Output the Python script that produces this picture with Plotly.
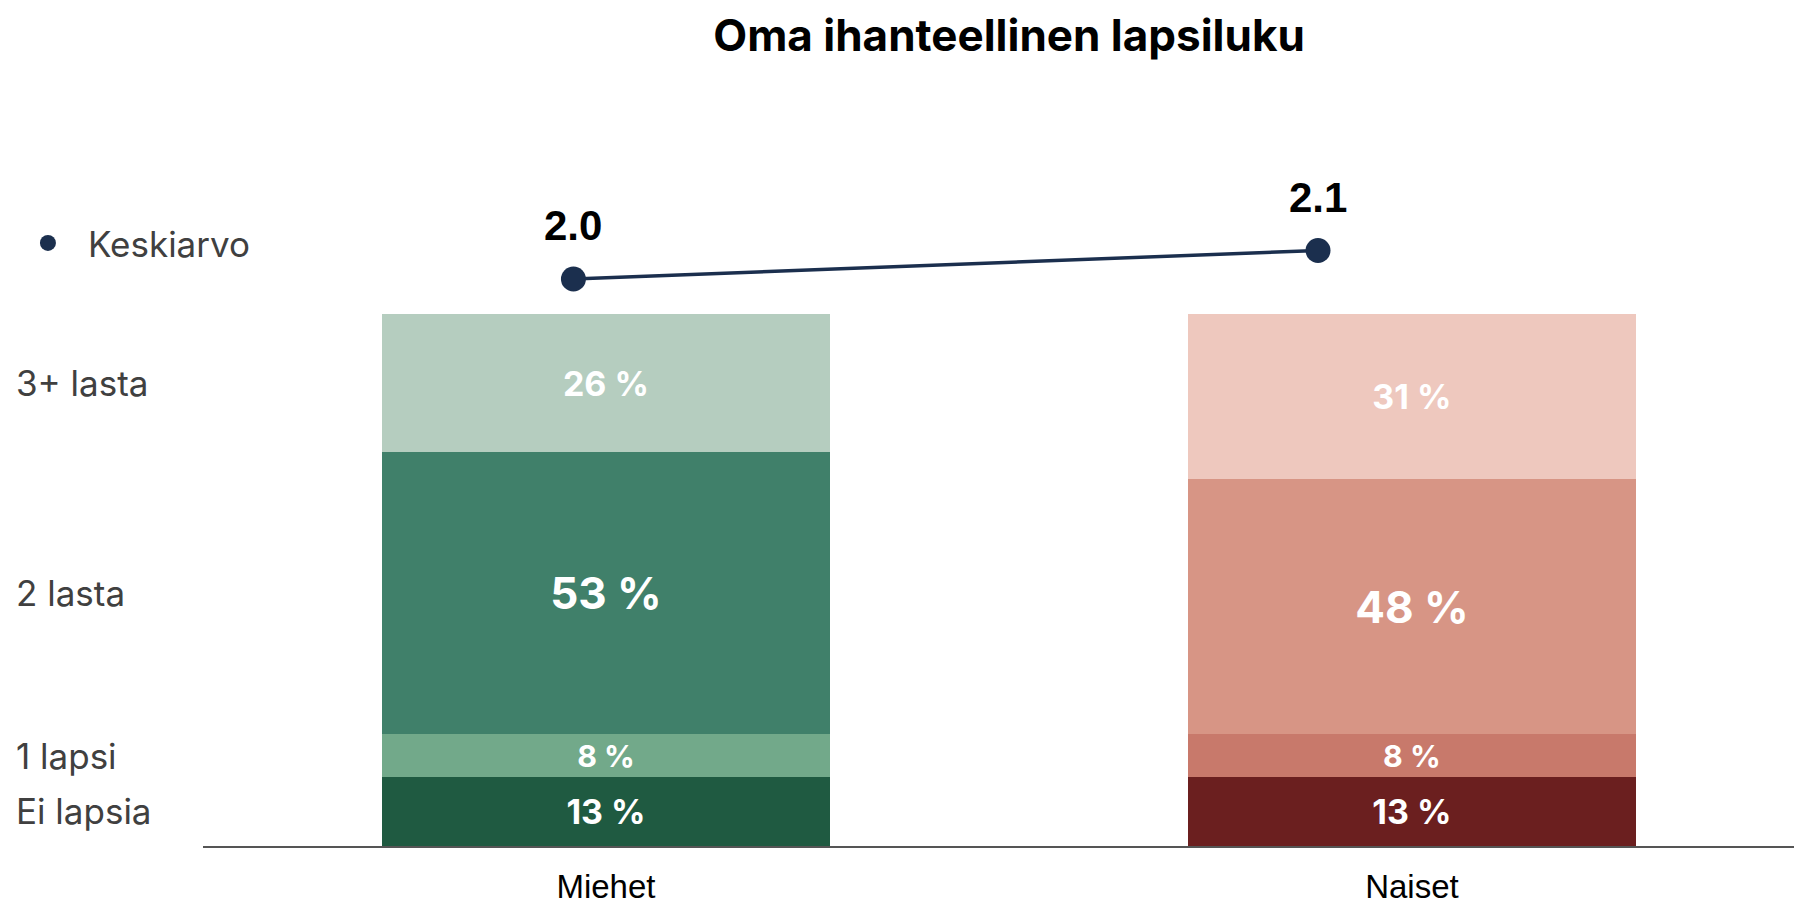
import plotly.graph_objects as go

# ---------------- data ----------------
groups = ["Miehet", "Naiset"]
segments = ["Ei lapsia", "1 lapsi", "2 lasta", "3+ lasta"]
miehet_pct = [13, 8, 53, 26]
naiset_pct = [13, 8, 48, 31]
mean_values = [2.0, 2.1]
mean_labels = ["2.0", "2.1"]
mean_name = "Keskiarvo"
title_text = "Oma ihanteellinen lapsiluku"

# ---------------- styles ----------------
green_colors = ["#1F5A41", "#72A98A", "#40806A", "#B5CDBF"]
red_colors = ["#6B1F1F", "#C8796B", "#D79585", "#EEC8BE"]
label_sizes = [34, 34, 44, 34]
line_color = "#1B2F4E"
FONT_BOLD = "Inter"
FONT_REG = "Inter"

fig = go.Figure()

for i, seg in enumerate(segments):
    vals = [miehet_pct[i], naiset_pct[i]]
    fig.add_trace(go.Bar(
        x=groups, y=vals, name=seg,
        marker=dict(color=[green_colors[i], red_colors[i]], line=dict(width=0)),
        text=[f"{v} %" for v in vals],
        textposition="inside", insidetextanchor="middle", textangle=0,
        textfont=dict(family=FONT_BOLD, size=label_sizes[i], color="white", weight="bold"),
        showlegend=False, hoverinfo="skip", width=0.555,
    ))

# mean line on secondary axes
fig.add_trace(go.Scatter(
    x=[0, 1], y=mean_values, mode="lines+markers", name=mean_name,
    line=dict(color=line_color, width=3.5),
    marker=dict(color=line_color, size=25),
    xaxis="x2", yaxis="y2", showlegend=False, cliponaxis=False,
))
# legend entry (dot only)
fig.add_trace(go.Scatter(
    x=[None], y=[None], mode="markers", name=mean_name,
    marker=dict(color=line_color, size=25),
    xaxis="x2", yaxis="y2", showlegend=True,
))

for xi, (v, lab) in enumerate(zip(mean_values, mean_labels)):
    fig.add_annotation(
        x=xi, y=v, xref="x2", yref="y2", text=f"<b>{lab}</b>",
        showarrow=False, yanchor="bottom", yshift=28,
        font=dict(family="Liberation Sans", size=42, color="black"),
    )

# left segment labels, positioned at Miehet segment midpoints
cum = 0
for seg, v in zip(segments, miehet_pct):
    mid = cum + v / 2
    cum += v
    fig.add_annotation(
        x=0, xref="paper", xanchor="left", y=mid, yref="y",
        xshift=-189, text=seg, showarrow=False,
        font=dict(family=FONT_REG, size=35, color="#404040"),
    )

fig.update_layout(
    width=1794, height=899,
    barmode="stack",
    plot_bgcolor="white", paper_bgcolor="white",
    margin=dict(l=195, r=0, t=102, b=61, autoexpand=False),
    title=dict(text=f"<b>{title_text}</b>", x=0.558, xanchor="center", y=0.969, yanchor="middle",
               font=dict(family=FONT_BOLD, size=44, color="black")),
    xaxis=dict(range=[-0.5, 1.484], showgrid=False, zeroline=False,
               showline=True, linecolor="#555555", linewidth=2,
               ticks="outside", ticklen=10, tickcolor="rgba(0,0,0,0)",
               tickfont=dict(family="Liberation Sans", size=33, color="black")),
    yaxis=dict(range=[0, 138.35], visible=False, fixedrange=True),
    xaxis2=dict(range=[-0.4975, 1.65], overlaying="x", visible=False),
    yaxis2=dict(range=[0.0105, 2.593], overlaying="y", visible=False),
    legend=dict(x=-0.122, xanchor="left", y=0.819, yanchor="middle",
                font=dict(family=FONT_REG, size=35, color="#404040"),
                itemwidth=70, bgcolor="rgba(0,0,0,0)"),
)

fig.write_html("out.html")
